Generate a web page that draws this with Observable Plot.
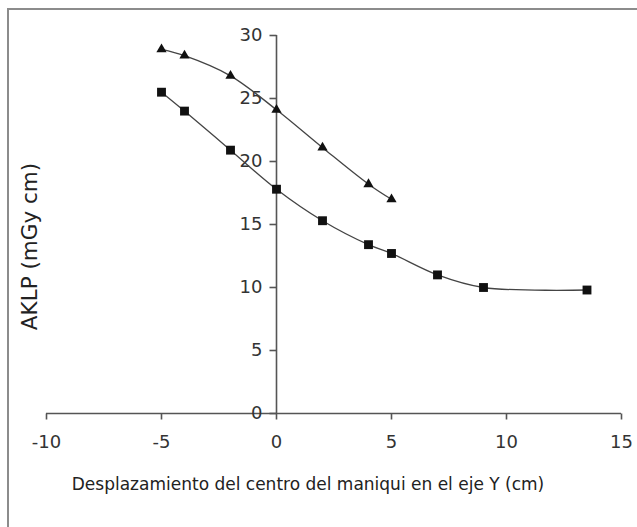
<!DOCTYPE html>
<html>
<head>
<meta charset="utf-8">
<script src="https://cdn.jsdelivr.net/npm/d3@7"></script>
<script src="https://cdn.jsdelivr.net/npm/@observablehq/plot@0.6"></script>
<style>
  html, body { margin: 0; padding: 0; background: #fff; }
  #wrap { position: relative; width: 637px; height: 527px; overflow: hidden; }
  #border { position: absolute; left: 7px; top: 8px; width: 700px; height: 700px;
            border-left: 2px solid #8c8c8c; border-top: 2px solid #8c8c8c; pointer-events: none; }
</style>
</head>
<body>
<div id="wrap"><div id="border"></div></div>
<script>
const triX = [-5, -4, -2, 0, 2, 4, 5];
const triY = [28.9, 28.4, 26.8, 24.1, 21.1, 18.2, 17.0];
const sqX = [-5, -4, -2, 0, 2, 4, 5, 7, 9, 13.5];
const sqY = [25.5, 24.0, 20.9, 17.8, 15.3, 13.4, 12.7, 11.0, 10.0, 9.8];
const xTicks = [-10, -5, 0, 5, 10, 15];
const yTicks = [0, 5, 10, 15, 20, 25, 30];
const xLabel = "Desplazamiento del centro del maniqui en el eje Y (cm)";
const yLabel = "AKLP (mGy cm)";

const tri = triX.map((x, i) => ({x, y: triY[i]}));
const sq = sqX.map((x, i) => ({x, y: sqY[i]}));

const leftTick = {draw(ctx) { ctx.moveTo(-7, 0); ctx.lineTo(0, 0); }};
const downTick = {draw(ctx) { ctx.moveTo(0, 0); ctx.lineTo(0, 6); }};

const font = "DejaVu Sans, Verdana, sans-serif";

const chart = Plot.plot({
  width: 637,
  height: 527,
  marginLeft: 46,
  marginRight: 16,
  marginTop: 35,
  marginBottom: 114,
  style: {fontFamily: font, background: "transparent", overflow: "visible"},
  x: {domain: [-10, 15], axis: null},
  y: {domain: [0, 30], axis: null},
  marks: [
    Plot.ruleY([0], {stroke: "#555", strokeWidth: 1.6}),
    Plot.ruleX([0], {y1: 0, y2: 30, stroke: "#555", strokeWidth: 1.6}),
    Plot.dot(yTicks, {x: 0, y: d => d, symbol: leftTick, stroke: "#555", strokeWidth: 1.6, r: 6}),
    Plot.dot(xTicks, {x: d => d, y: 0, symbol: downTick, stroke: "#555", strokeWidth: 1.6, r: 6}),
    Plot.text(yTicks, {x: 0, y: d => d, text: d => String(d), dx: -14, textAnchor: "end", fontSize: 18, fill: "#333"}),
    Plot.text(xTicks, {x: d => d, y: 0, text: d => String(d), dy: 28.5, fontSize: 18, fill: "#333"}),
    Plot.text([xLabel], {frameAnchor: "bottom", text: d => d, dy: 76, dx: -26, fontSize: 17, fill: "#222"}),
    Plot.text([yLabel], {frameAnchor: "left", textAnchor: "middle", text: d => d, rotate: -90, dx: -16.5, dy: 22, fontSize: 21.5, fill: "#222"}),
    Plot.line(tri, {x: "x", y: "y", curve: "catmull-rom", stroke: "#444", strokeWidth: 1.3}),
    Plot.line(sq, {x: "x", y: "y", curve: "catmull-rom", stroke: "#444", strokeWidth: 1.3}),
    Plot.dot(tri, {x: "x", y: "y", symbol: "triangle", r: 3.8, fill: "#111", stroke: "none"}),
    Plot.dot(sq, {x: "x", y: "y", symbol: "square", r: 5, fill: "#111", stroke: "none"})
  ]
});
document.getElementById("wrap").prepend(chart);
</script>
</body>
</html>
